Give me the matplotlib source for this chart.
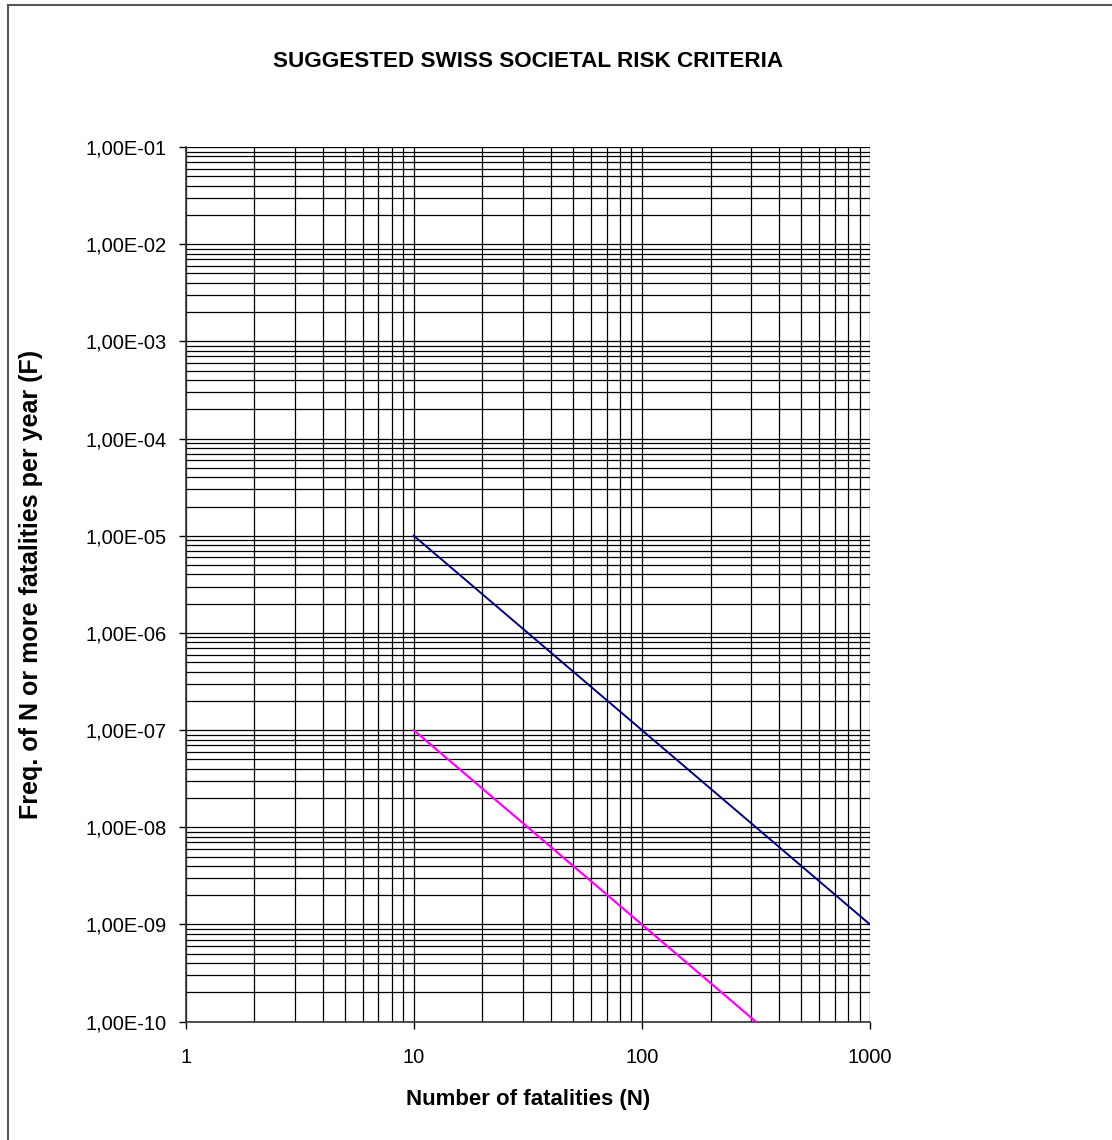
import matplotlib
matplotlib.use("Agg")
import matplotlib.pyplot as plt
from matplotlib.ticker import LogLocator, FuncFormatter, NullFormatter
import math

plt.rcParams['font.family'] = ['Liberation Sans', 'DejaVu Sans']

# upper and lower criteria lines
n_upper = [10, 100, 1000]
f_upper = [1e-5, 1e-7, 1e-9]
n_lower = [10, 100, 316]
f_lower = [1e-7, 1e-9, 1e-10]

x_ticks = [1, 10, 100, 1000]


def excel_sci(v, pos):
    e = int(round(math.log10(v)))
    sign = '-' if e < 0 else '+'
    return "1,00E%s%02d" % (sign, abs(e))


fig = plt.figure(figsize=(11.12, 11.40), dpi=100)
ax = fig.add_axes([0.167, 0.1038, 0.6154, 0.7672])

ax.plot(n_upper, f_upper, color='#000080', lw=1.4, zorder=3)
ax.plot(n_lower, f_lower, color='#ff00ff', lw=1.6, zorder=3)

ax.set_xscale('log')
ax.set_yscale('log')
ax.set_xlim(1, 1000)
ax.set_ylim(1e-10, 1e-1)

ax.set_xticks(x_ticks)
ax.xaxis.set_minor_locator(LogLocator(base=10, subs=range(2, 10), numticks=20))
ax.yaxis.set_major_locator(LogLocator(base=10, numticks=20))
ax.yaxis.set_minor_locator(LogLocator(base=10, subs=range(2, 10), numticks=40))
ax.xaxis.set_major_formatter(FuncFormatter(lambda v, p: "%d" % round(v)))
ax.yaxis.set_major_formatter(FuncFormatter(excel_sci))
ax.xaxis.set_minor_formatter(NullFormatter())
ax.yaxis.set_minor_formatter(NullFormatter())

ax.grid(True, which='both', color='black', lw=0.9)
ax.tick_params(which='major', length=5, width=1, labelsize=14.5, pad=9)
ax.tick_params(which='minor', length=0)
ax.tick_params(axis='x', pad=14)

for s in ['top', 'right']:
    ax.spines[s].set_visible(False)
for s in ['left', 'bottom']:
    ax.spines[s].set_color('#333333')
    ax.spines[s].set_linewidth(1.2)

ax.set_xlabel("Number of fatalities (N)", fontsize=16, fontweight='bold', labelpad=16)
ax.set_ylabel("Freq. of N or more fatalities per year (F)", fontsize=18, fontweight='bold', labelpad=30)
fig.text(0.475, 0.946, "SUGGESTED SWISS SOCIETAL RISK CRITERIA", ha='center', va='center',
         fontsize=16.2, fontweight='bold')

# outer frame (left and top edges visible)
fig.add_artist(plt.Line2D([0.0075, 0.0075], [0, 0.9956], color='#555555', lw=1.5))
fig.add_artist(plt.Line2D([0.0075, 1.0], [0.9956, 0.9956], color='#555555', lw=1.5))

fig.savefig("out.png", dpi=100)
